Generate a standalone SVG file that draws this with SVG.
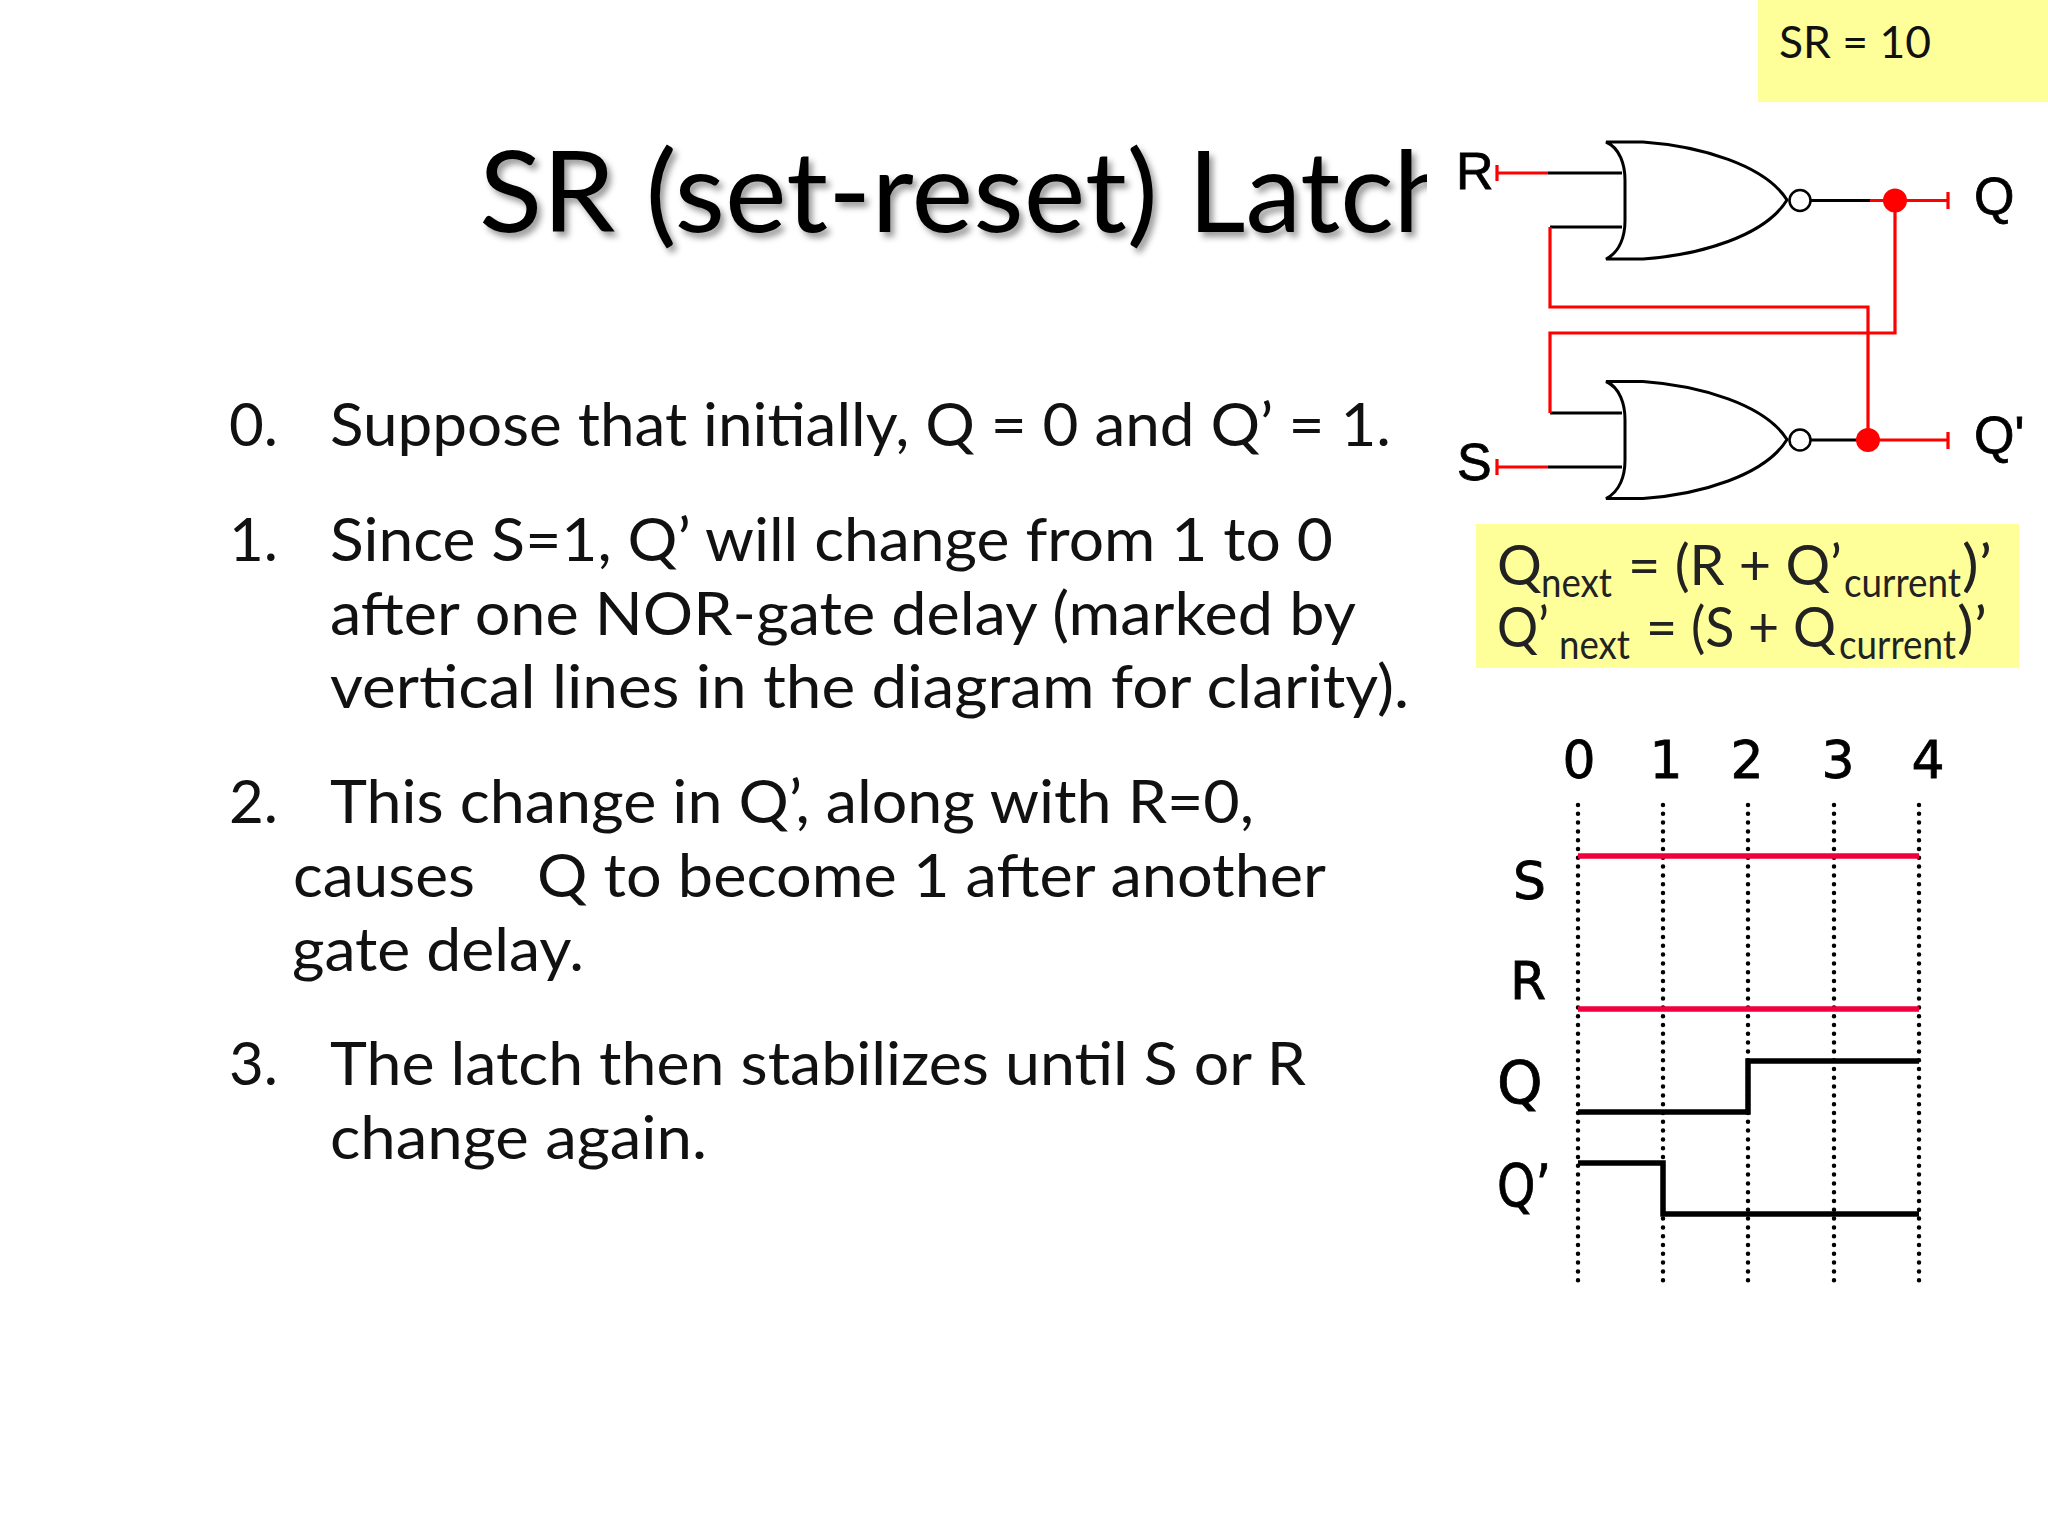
<svg xmlns="http://www.w3.org/2000/svg" width="2048" height="1536" viewBox="0 0 2048 1536">
<style>
.b{font-family:"Lato","Liberation Sans",sans-serif;font-size:60px;fill:#111}
.e{font-family:"Lato","Liberation Sans",sans-serif;font-size:56px;fill:#222;font-weight:400}
.s{font-size:41px}
.g{font-family:"Liberation Sans",Arial,sans-serif;font-size:52px;fill:#000;stroke:#000;stroke-width:.8}
.t{font-family:"DejaVu Sans",sans-serif;font-size:52px;fill:#000;stroke:#000;stroke-width:.8}
.w{fill:none;stroke-width:3.2}
.k{stroke:#000}.r{stroke:#f00}
.d{fill:none;stroke:#000;stroke-width:4.5;stroke-linecap:round;stroke-dasharray:0 8.8}
.sig{fill:none;stroke-width:5.5}
</style>
<defs>
<clipPath id="tc"><rect x="400" y="100" width="1027" height="200"/></clipPath>
<filter id="sh" x="-5%" y="-20%" width="110%" height="140%"><feDropShadow dx="4" dy="5" stdDeviation="3" flood-color="#000" flood-opacity="0.4"/></filter>
<g id="nor"><path d="M1606 0H1643C1700 4 1765 23 1787 58C1765 94 1700 113 1643 117H1606C1620 110 1625 94 1625 79V38C1625 23 1620 6 1606 0Z" fill="none" stroke="#000" stroke-width="3"/><circle cx="1800" cy="58.500" r="10.500" fill="#fff" stroke="#000" stroke-width="2.500"/></g>
</defs>
<rect width="2048" height="1536" fill="#fff"/>
<g id="title" clip-path="url(#tc)" filter="url(#sh)" font-family="Lato,'Liberation Sans',sans-serif" font-size="112" fill="#000"><text x="479" y="232" textLength="679" lengthAdjust="spacingAndGlyphs">SR (set-reset)</text><text x="1188" y="232" textLength="268" lengthAdjust="spacingAndGlyphs">Latch</text></g>
<g id="sr-note"><rect x="1758" width="290" height="102" fill="#ffff99"/><text x="1779" y="58" font-family="Lato,sans-serif" font-size="45" fill="#111" textLength="152" lengthAdjust="spacingAndGlyphs">SR = 10</text></g>
<g id="body">
<text class="b" x="229" y="446" textLength="49" lengthAdjust="spacingAndGlyphs">0.</text><text class="b" x="330" y="446" textLength="1061" lengthAdjust="spacingAndGlyphs">Suppose that initially, Q = 0 and Q’ = 1.</text>
<text class="b" x="229" y="561" textLength="49" lengthAdjust="spacingAndGlyphs">1.</text><text class="b" x="330" y="561" textLength="1003" lengthAdjust="spacingAndGlyphs">Since S=1, Q’ will change from 1 to 0</text>
<text class="b" x="330" y="635" textLength="1026" lengthAdjust="spacingAndGlyphs">after one NOR-gate delay (marked by</text>
<text class="b" x="330" y="708" textLength="1079" lengthAdjust="spacingAndGlyphs">vertical lines in the diagram for clarity).</text>
<text class="b" x="229" y="823" textLength="49" lengthAdjust="spacingAndGlyphs">2.</text><text class="b" x="330" y="823" textLength="924" lengthAdjust="spacingAndGlyphs">This change in Q’, along with R=0,</text>
<text class="b" x="293" y="897" textLength="182" lengthAdjust="spacingAndGlyphs">causes</text><text class="b" x="537" y="897" textLength="789" lengthAdjust="spacingAndGlyphs">Q to become 1 after another</text>
<text class="b" x="292" y="971" textLength="292" lengthAdjust="spacingAndGlyphs">gate delay.</text>
<text class="b" x="229" y="1085" textLength="49" lengthAdjust="spacingAndGlyphs">3.</text><text class="b" x="330" y="1085" textLength="976" lengthAdjust="spacingAndGlyphs">The latch then stabilizes until S or R</text>
<text class="b" x="330" y="1159" textLength="377" lengthAdjust="spacingAndGlyphs">change again.</text>
</g>
<g id="connectors">
<path class="w k" d="M1548 173H1622M1550 227H1622M1810 200.500H1870M1550 413H1622M1548 467H1622M1810 440H1858"/>
<path class="w r" d="M1497 173H1548M1497 165V181M1870 200.500H1948M1948 192V209M1550 227V307H1868V440M1895 200.500V333H1550V413M1497 467H1548M1497 459V475M1858 440H1948M1948 432V449"/>
</g>
<g id="gate-top"><use href="#nor" y="142"/></g>
<g id="gate-bottom"><use href="#nor" y="381.500"/></g>
<g id="junction-q"><circle cx="1895" cy="200.500" r="12" fill="#f00"/></g>
<g id="junction-qn"><circle cx="1868" cy="440" r="12" fill="#f00"/></g>
<g id="gate-labels"><text class="g" x="1456" y="189">R</text><text class="g" x="1457" y="480">S</text><text class="g" x="1974" y="214">Q</text><text class="g" x="1974" y="453">Q'</text></g>
<g id="equations"><rect x="1476" y="524" width="543" height="144" fill="#ffff99"/>
<text class="e" x="1497" y="585">Q</text><text class="e s" x="1541" y="597" textLength="71" lengthAdjust="spacingAndGlyphs">next</text><text class="e" x="1628" y="585" textLength="214" lengthAdjust="spacingAndGlyphs">= (R + Q’</text><text class="e s" x="1844" y="597" textLength="117" lengthAdjust="spacingAndGlyphs">current</text><text class="e" x="1962" y="585" textLength="30" lengthAdjust="spacingAndGlyphs">)’</text>
<text class="e" x="1497" y="647" textLength="52" lengthAdjust="spacingAndGlyphs">Q’</text><text class="e s" x="1559" y="659" textLength="71" lengthAdjust="spacingAndGlyphs">next</text><text class="e" x="1646" y="647" textLength="190" lengthAdjust="spacingAndGlyphs">= (S + Q</text><text class="e s" x="1839" y="659" textLength="117" lengthAdjust="spacingAndGlyphs">current</text><text class="e" x="1957" y="647" textLength="30" lengthAdjust="spacingAndGlyphs">)’</text>
</g>
<g id="timing">
<path class="d" d="M1578 805V1282M1663 805V1282M1748 805V1282M1834 805V1282M1919 805V1282"/>
<path class="sig" stroke="#f0003c" d="M1578 856H1919M1578 1009H1919"/>
<path class="sig" stroke="#000" d="M1578 1112H1748V1061H1919M1578 1163H1663V1214H1919"/>
<g text-anchor="middle"><text class="t" x="1579" y="778">0</text><text class="t" x="1666" y="778">1</text><text class="t" x="1747" y="778">2</text><text class="t" x="1838" y="778">3</text><text class="t" x="1928" y="778">4</text></g>
<text class="t" x="1513" y="899">S</text><text class="t" x="1510" y="999">R</text><text class="t" x="1497" y="1103" style="font-size:58px">Q</text><text class="t" x="1497" y="1206" style="font-size:58px" textLength="54" lengthAdjust="spacingAndGlyphs">Q’</text>
</g>
</svg>
